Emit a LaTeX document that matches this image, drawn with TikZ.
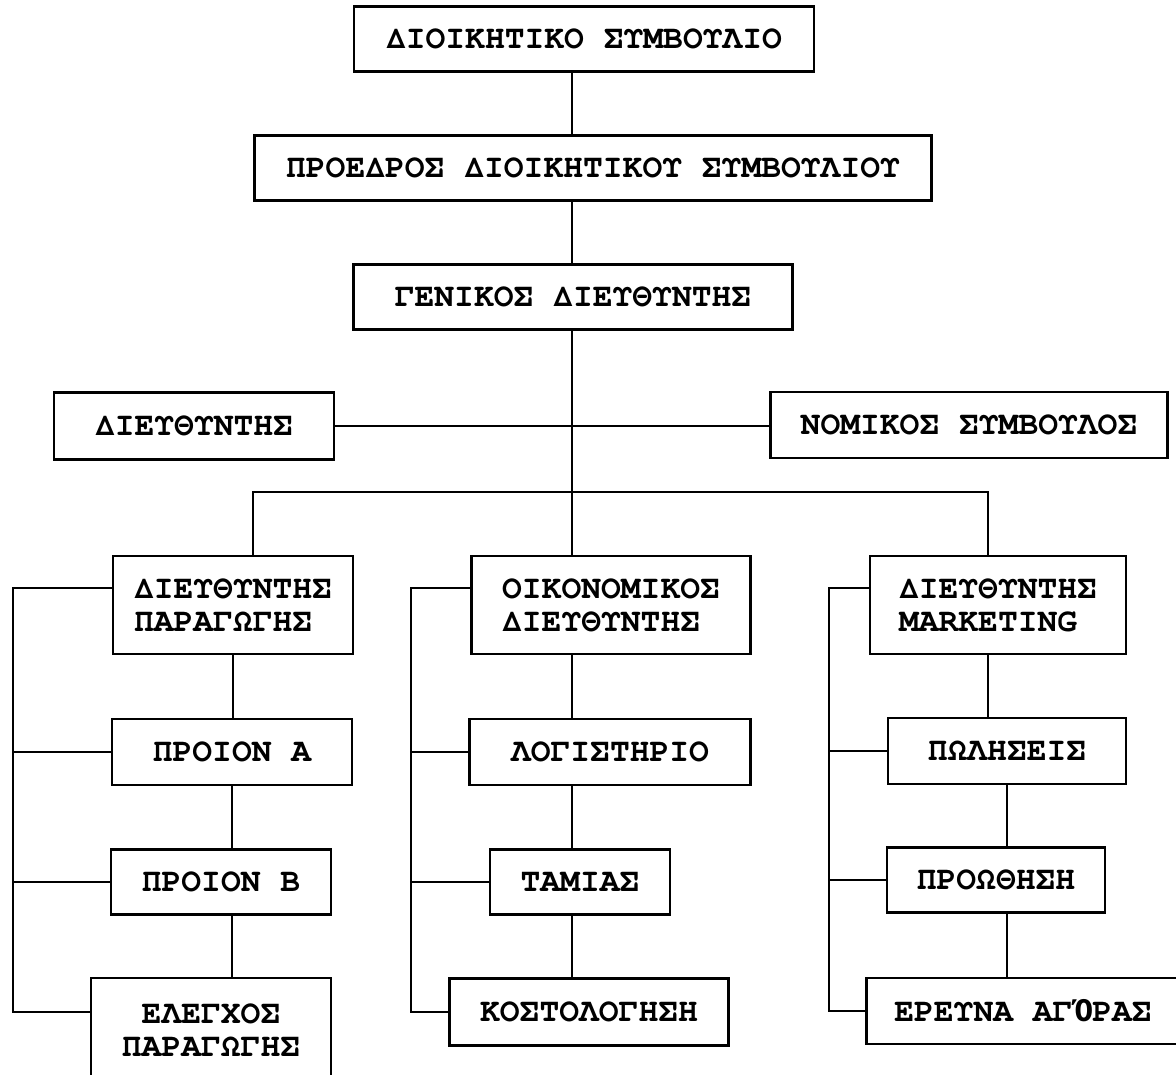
\documentclass[tikz,border=0pt]{standalone}
\usepackage{fontspec}
\newfontfamily\orgfont{TeX Gyre Cursor}
\newfontfamily\tonosfont{Liberation Mono}

\tikzset{
	unit/.style={draw, line width=2.2pt, inner sep=0pt, align=center, minimum height=65,
		font=\orgfont\bfseries\fontsize{33}{33}\selectfont},
	link/.style={line width=2.2pt}
}

\begin{document}
\begin{tikzpicture}[x=1pt,y=1pt]

	\useasboundingbox (0,0) rectangle (1176,-1075);
	\clip (0,0) rectangle (1176,-1075);

	%board and management
	\node[unit, minimum width=460] (dks) at (584,-39) {ΔΙΟΙΚΗΤΙΚΟ ΣΥΜΒΟΥΛΙΟ};
	\node[unit, minimum width=677] (pds) at (593,-168) {ΠΡΟΕΔΡΟΣ ΔΙΟΙΚΗΤΙΚΟΥ ΣΥΜΒΟΥΛΙΟΥ};
	\node[unit, minimum width=439] (gd) at (573,-297) {ΓΕΝΙΚΟΣ ΔΙΕΥΘΥΝΤΗΣ};

	%staff
	\node[unit, minimum width=280, minimum height=67] (dir) at (194,-426) {ΔΙΕΥΘΥΝΤΗΣ};
	\node[unit, minimum width=397, minimum height=66] (ns) at (969,-425) {ΝΟΜΙΚΟΣ ΣΥΜΒΟΥΛΟΣ};

	%department heads
	\node[unit, minimum width=240, minimum height=98, align=left] (dp) at (233,-605) {ΔΙΕΥΘΥΝΤΗΣ\\ΠΑΡΑΓΩΓΗΣ};
	\node[unit, minimum width=279, minimum height=98, align=left] (od) at (611,-605) {ΟΙΚΟΝΟΜΙΚΟΣ\\ΔΙΕΥΘΥΝΤΗΣ};
	\node[unit, minimum width=256, minimum height=98, align=left] (dm) at (998,-605) {ΔΙΕΥΘΥΝΤΗΣ\\MARKETING};

	%production
	\node[unit, minimum width=240, minimum height=66] (pra) at (232,-752) {ΠΡΟΙΟΝ Α};
	\node[unit, minimum width=220] (prb) at (221,-882) {ΠΡΟΙΟΝ Β};
	\node[unit, minimum width=240, minimum height=104] (el) at (211,-1030) {ΕΛΕΓΧΟΣ\\ΠΑΡΑΓΩΓΗΣ};

	%finance
	\node[unit, minimum width=281, minimum height=66] (lg) at (610,-752) {ΛΟΓΙΣΤΗΡΙΟ};
	\node[unit, minimum width=180] (tm) at (580,-882) {ΤΑΜΙΑΣ};
	\node[unit, minimum width=279, minimum height=67] (ks) at (589,-1012) {ΚΟΣΤΟΛΟΓΗΣΗ};

	%marketing
	\node[unit, minimum width=238, minimum height=66] (pl) at (1007,-751) {ΠΩΛΗΣΕΙΣ};
	\node[unit, minimum width=218] (pro) at (996,-880) {ΠΡΟΩΘΗΣΗ};
	\node[unit, minimum width=313, minimum height=66] (ea) at (1023,-1011) {ΕΡΕΥΝΑ ΑΓ{\tonosfont Ό}ΡΑΣ};

	%turning points
	\coordinate (spine) at (572,0);
	\coordinate (bl) at (253,-492);
	\coordinate (br) at (988,-492);
	\coordinate (c1) at (13,-588);
	\coordinate (c2) at (411,-588);
	\coordinate (c3) at (829,-588);

	%main line
	\draw[link] (dks.south -| spine) -- (pds.north -| spine);
	\draw[link] (pds.south -| spine) -- (gd.north -| spine);
	\draw[link] (gd.south -| spine) -- (od.north -| spine);
	\draw[link] (dir.east) -- (dir.east -| ns.west); %staff line
	\draw[link] (dp.north -| bl) -- (bl) -- (br) -- (dm.north -| br); %bus

	%production lines
	\draw[link] (dp) -- (dp |- pra.north);
	\draw[link] (pra) -- (pra |- prb.north);
	\draw[link] (prb.south -| pra) -- (el.north -| pra);
	\draw[link] (dp.west |- c1) -- (c1) |- ([yshift=18]el.west);
	\draw[link] (pra.west) -- (pra.west -| c1);
	\draw[link] (prb.west) -- (prb.west -| c1);

	%finance lines
	\draw[link] (od.south -| spine) -- (lg.north -| spine);
	\draw[link] (lg.south -| spine) -- (tm.north -| spine);
	\draw[link] (tm.south -| spine) -- (ks.north -| spine);
	\draw[link] (od.west |- c2) -- (c2) |- (ks.west);
	\draw[link] (lg.west) -- (lg.west -| c2);
	\draw[link] (tm.west) -- (tm.west -| c2);

	%marketing lines
	\draw[link] (dm.south -| br) -- (pl.north -| br);
	\draw[link] (pl) -- (pl |- pro.north);
	\draw[link] (pro.south -| pl) -- (ea.north -| pl);
	\draw[link] (dm.west |- c3) -- (c3) |- (ea.west);
	\draw[link] (pl.west) -- (pl.west -| c3);
	\draw[link] (pro.west) -- (pro.west -| c3);

\end{tikzpicture}
\end{document}
